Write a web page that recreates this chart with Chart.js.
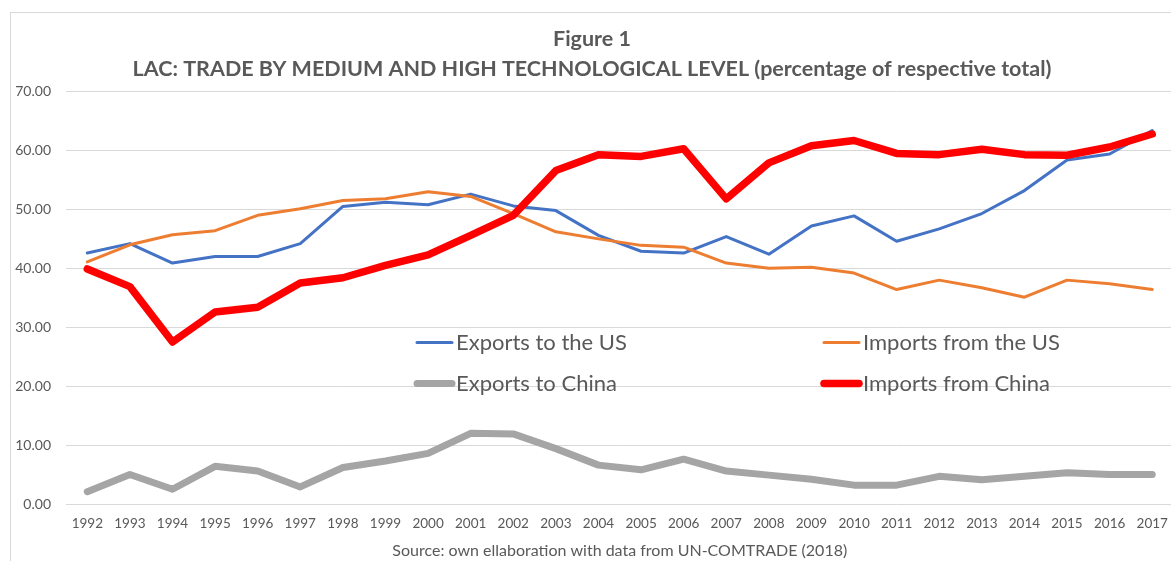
<!DOCTYPE html>
<html>
<head>
<meta charset="utf-8">
<script src="https://cdn.jsdelivr.net/npm/chart.js@4.4.1/dist/chart.umd.min.js"></script>
<style>
  html, body { margin: 0; padding: 0; background: #fff; overflow: hidden; }
  #wrap { position: relative; width: 1171px; height: 561px; overflow: hidden; }
  #frame { position: absolute; left: 10px; top: 12px; width: 1200px; height: 600px;
           border-left: 1px solid #d9d9d9; border-top: 1px solid #d9d9d9; }
  #chart { position: absolute; left: 0; top: 0; }
</style>
</head>
<body>
<div id="wrap">
  <div id="frame"></div>
  <canvas id="chart" width="1180" height="561"></canvas>
</div>
<script>
const years = ['1992','1993','1994','1995','1996','1997','1998','1999','2000','2001','2002','2003','2004',
  '2005','2006','2007','2008','2009','2010','2011','2012','2013','2014','2015','2016','2017'];

const exportsUS = [42.6, 44.2, 40.9, 42.0, 42.0, 44.2, 50.5, 51.2, 50.8, 52.6, 50.6, 49.8, 45.6,
  42.9, 42.6, 45.4, 42.4, 47.2, 48.9, 44.6, 46.7, 49.3, 53.2, 58.4, 59.4, 63.4];

const importsUS = [41.1, 44.0, 45.7, 46.4, 49.0, 50.1, 51.5, 51.8, 53.0, 52.2, 49.3, 46.2, 45.0,
  43.9, 43.6, 40.9, 40.0, 40.2, 39.2, 36.4, 38.0, 36.7, 35.1, 38.0, 37.4, 36.4];

const exportsChina = [2.1, 5.0, 2.5, 6.4, 5.6, 2.9, 6.2, 7.3, 8.6, 12.0, 11.9, 9.4, 6.6,
  5.8, 7.6, 5.6, 4.9, 4.2, 3.2, 3.2, 4.7, 4.1, 4.7, 5.3, 5.0, 5.0];

const importsChina = [39.9, 36.9, 27.5, 32.6, 33.4, 37.5, 38.4, 40.5, 42.3, 45.6, 49.0, 56.6, 59.3,
  59.0, 60.3, 51.8, 57.9, 60.8, 61.7, 59.5, 59.3, 60.2, 59.3, 59.2, 60.6, 62.8];

const textColor = '#595959';
const gridColor = '#d9d9d9';

// legend sits inside the plot, two columns, no box
const insideLegend = {
  id: 'insideLegend',
  afterDraw(chart) {
    const ctx = chart.ctx;
    const a = chart.chartArea;
    chart.data.datasets.forEach((ds, i) => {
      const col = i % 2, row = Math.floor(i / 2);
      const x = a.left + (col ? 758 : 351);
      const y = a.top + (row ? 292 : 251);
      ctx.save();
      ctx.strokeStyle = ds.borderColor;
      ctx.lineWidth = ds.borderWidth;
      ctx.lineCap = 'round';
      ctx.beginPath();
      ctx.moveTo(x, y);
      ctx.lineTo(x + 35, y);
      ctx.stroke();
      ctx.fillStyle = textColor;
      ctx.font = '22px Lato';
      ctx.textBaseline = 'middle';
      ctx.fillText(ds.label, x + 39, y);
      ctx.restore();
    });
  }
};

function line(label, data, color, width, order) {
  return {
    label: label,
    data: data,
    borderColor: color,
    backgroundColor: color,
    borderWidth: width,
    pointRadius: 0,
    tension: 0,
    borderJoinStyle: 'round',
    borderCapStyle: 'round',
    order: order
  };
}

new Chart(document.getElementById('chart'), {
  type: 'line',
  data: {
    labels: years,
    datasets: [
      line('Exports to the US', exportsUS, '#4472c4', 3, 3),
      line('Imports from the US', importsUS, '#ed7d31', 3, 2),
      line('Exports to China', exportsChina, '#a5a5a5', 7, 1),
      line('Imports from China', importsChina, '#ff0000', 7.5, 0)
    ]
  },
  options: {
    responsive: false,
    animation: false,
    layout: { padding: { left: 10, right: 6, top: 0, bottom: 0 } },
    plugins: {
      legend: { display: false },
      tooltip: { enabled: false },
      title: {
        display: true,
        text: 'Figure 1',
        color: textColor,
        font: { family: 'Lato', size: 21.5, weight: 'bold' },
        padding: { top: 26, bottom: 4 }
      },
      subtitle: {
        display: true,
        text: 'LAC: TRADE BY MEDIUM AND HIGH TECHNOLOGICAL LEVEL (percentage of respective total)',
        color: textColor,
        font: { family: 'Lato', size: 21.5, weight: 'bold' },
        padding: { top: 0, bottom: 10 }
      }
    },
    scales: {
      x: {
        offset: true,
        afterFit(s) { s.height = 57; },
        grid: { display: false, drawTicks: false },
        border: { display: false },
        ticks: {
          color: textColor,
          font: { family: 'Lato', size: 13.5 },
          padding: 12,
          maxRotation: 0,
          autoSkip: false
        },
        title: {
          display: true,
          text: 'Source: own ellaboration with data from UN-COMTRADE (2018)',
          color: textColor,
          font: { family: 'Lato', size: 16 },
          padding: { top: 8, bottom: 1 }
        }
      },
      y: {
        min: 0,
        max: 70,
        afterFit(s) { s.width = 56; },
        grid: { color: gridColor, lineWidth: 1, drawTicks: false },
        border: { display: false },
        ticks: {
          stepSize: 10,
          color: textColor,
          font: { family: 'Lato', size: 14 },
          padding: 15,
          callback: v => v.toFixed(2)
        }
      }
    }
  },
  plugins: [insideLegend]
});
</script>
</body>
</html>
